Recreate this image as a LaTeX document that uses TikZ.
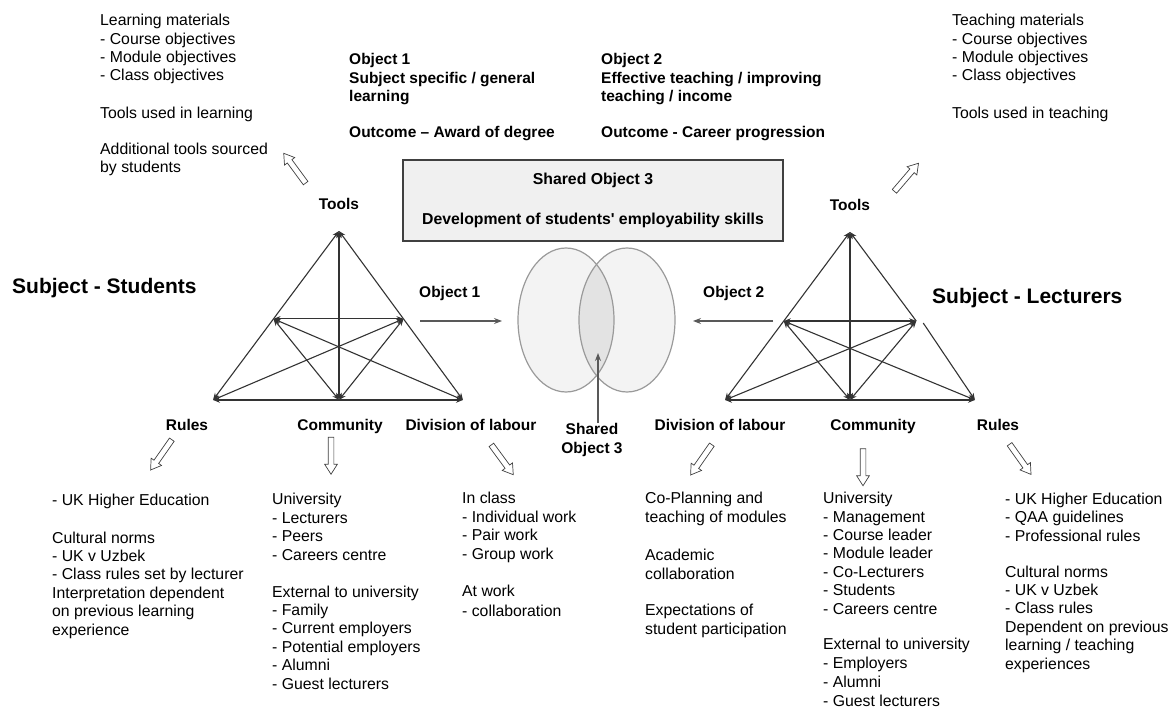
\documentclass[tikz,border=0pt]{standalone}
\usepackage{fontspec}
\setmainfont{Liberation Sans}
\usetikzlibrary{arrows.meta,shapes.arrows,calc}
\definecolor{linec}{HTML}{333333}
\definecolor{venn}{HTML}{F3F3F3}
\definecolor{venno}{HTML}{E3E3E3}
\definecolor{vennline}{HTML}{9A9A9A}
\definecolor{boxfill}{HTML}{F0F0F0}
\definecolor{boxline}{HTML}{404040}
\tikzset{
  txt/.style={font=\fontsize{15.8}{18.4}\selectfont, anchor=base west, inner sep=0pt, align=left},
  btxt/.style={font=\fontsize{15.5}{18.5}\selectfont\bfseries, anchor=base west, inner sep=0pt, align=left},
  lbl/.style={font=\fontsize{15.5}{18.5}\selectfont\bfseries, anchor=base, inner sep=0pt, align=center},
  bigtxt/.style={font=\fontsize{21}{25}\selectfont\bfseries, anchor=base west, inner sep=0pt},
  tipS/.tip={Stealth[length=7pt,width=5.5pt]},
  tri/.style={draw=linec, line width=1.1pt, tipS-tipS},
  objarr/.style={draw=black!65, line width=1.1pt, -{Stealth[length=8pt,width=6pt]}},
  hollow/.style={shape=single arrow, draw=black!75, fill=white, line width=0.7pt, minimum height=37pt, inner sep=2.5pt, single arrow head extend=3.5pt, single arrow tip angle=65},
  sbox/.style={draw=boxline, fill=boxfill, line width=1.3pt, minimum width=380pt, minimum height=81pt, inner sep=0pt, align=center, font=\fontsize{15.8}{18.5}\selectfont\bfseries},
}
\begin{document}
\begin{tikzpicture}[x=1pt,y=-1pt]
\useasboundingbox (0,0) rectangle (1176,711);

% (multi-line text nodes are placed by the baseline of their LAST line)
% ---------- top texts ----------
\node[txt] (tlA) at (100,81) {Learning materials\\- Course objectives\\- Module objectives\\- Class objectives};
\node[txt] (tlB) at (100,119) {Tools used in learning};
\node[txt] (tlC) at (100,173) {Additional tools sourced\\by students};

\node[txt] (trA) at (952,81) {Teaching materials\\- Course objectives\\- Module objectives\\- Class objectives};
\node[txt] (trB) at (952,119) {Tools used in teaching};

\node[btxt] (ob1) at (349,102) {Object 1\\Subject specific / general\\learning};
\node[btxt] (ob1o) at (349,138) {Outcome – Award of degree};
\node[btxt] (ob2) at (601,102) {Object 2\\Effective teaching / improving\\teaching / income};
\node[btxt] (ob2o) at (601,138) {Outcome - Career progression};

% ---------- shared box ----------
\node[sbox] (shbox) at (593,200.5) {Shared Object 3\\[21pt]Development of students\textquotesingle{} employability skills};

% ---------- subjects ----------
\node[bigtxt] (subS) at (12,294) {Subject - Students};
\node[bigtxt] (subL) at (932,304) {Subject - Lecturers};

% ---------- left triangle ----------
\coordinate (LA) at (339,231);
\coordinate (LBL) at (213,400);
\coordinate (LC) at (339,400);
\coordinate (LBR) at (463,400);
\coordinate (LML) at ($(LA)!0.52!(LBL)$);
\coordinate (LMR) at ($(LA)!0.52!(LBR)$);
\draw[tri] (LA) -- (LBL);
\draw[tri] (LA) -- (LBR);
\draw[tri] (LA) -- (LC);
\draw[tri] (LBL) -- (LBR);
\draw[tri] (LML) -- (LMR);
\draw[tri] (LML) -- (LC);
\draw[tri] (LML) -- (LBR);
\draw[tri] (LMR) -- (LC);
\draw[tri] (LMR) -- (LBL);

% ---------- right triangle ----------
\coordinate (RA) at (850,232);
\coordinate (RBL) at (725,400);
\coordinate (RC) at (850,400);
\coordinate (RBR) at (975,400);
\coordinate (RML) at ($(RA)!0.53!(RBL)$);
\coordinate (RMR) at ($(RA)!0.53!(RBR)$);
\coordinate (RMRb) at ($(RMR)+(7,2)$);
\draw[tri] (RA) -- (RBL);
\draw[draw=linec, line width=1.1pt, tipS-] (RA) -- (RMR);
\draw[draw=linec, line width=1.1pt, -tipS] (RMRb) -- (RBR);
\draw[tri] (RA) -- (RC);
\draw[tri] (RBL) -- (RBR);
\draw[tri] (RML) -- (RMR);
\draw[tri] (RML) -- (RC);
\draw[tri] (RML) -- (RBR);
\draw[tri] (RMR) -- (RC);
\draw[tri] (RMR) -- (RBL);

% ---------- triangle labels ----------
\node[lbl] (ltools) at (339,210) {Tools};
\node[lbl] (rtools) at (850,211) {Tools};
\node[lbl] (lrules) at (187,430) {Rules};
\node[lbl] (lcomm) at (340,430) {Community};
\node[lbl] (ldiv) at (471,430) {Division of labour};
\node[lbl] (rdiv) at (720,430) {Division of labour};
\node[lbl] (rcomm) at (873,430) {Community};
\node[lbl] (rrules) at (998,430) {Rules};

% ---------- venn ----------
\fill[venn] (566,320) ellipse (48 and 72);
\fill[venn] (627,320) ellipse (48 and 72);
\begin{scope}
  \clip (566,320) ellipse (48 and 72);
  \fill[venno] (627,320) ellipse (48 and 72);
\end{scope}
\draw[vennline, line width=1.2pt] (566,320) ellipse (48 and 72);
\draw[vennline, line width=1.2pt] (627,320) ellipse (48 and 72);

% ---------- object arrows ----------
\node[lbl, anchor=base west] (o1lbl) at (419,298) {Object 1};
\node[lbl, anchor=base west] (o2lbl) at (703,298) {Object 2};
\coordinate (o1tail) at (420,321);
\coordinate (o1tip) at (502,321);
\coordinate (o2tail) at (773,321);
\coordinate (o2tip) at (693,321);
\draw[objarr] (o1tail) -- (o1tip);
\draw[objarr] (o2tail) -- (o2tip);

\node[lbl] (so3) at (592,453) {Shared\\Object 3};
\coordinate (so3tip) at (598,353);
\draw[objarr] ([xshift=6pt]so3.north) -- (so3tip);

% ---------- hollow arrows ----------
\node[hollow, rotate=126.3] (htl) at (296,170) {};
\node[hollow, rotate=49.4] (htr) at (905,179) {};
\node[hollow, rotate=235] (hrl) at (162.5,453) {};
\node[hollow, rotate=270] (hcl) at (331,453.5) {};
\node[hollow, rotate=306.3] (hdl) at (501,458) {};
\node[hollow, rotate=235] (hdr) at (702.5,458) {};
\node[hollow, rotate=270] (hcr) at (863,465) {};
\node[hollow, rotate=305.4] (hrr) at (1019,457.5) {};

% ---------- bottom texts ----------
\node[txt] (blr1) at (52,505) {- UK Higher Education};
\node[txt] (blr2) at (52,635) {Cultural norms\\- UK v Uzbek\\- Class rules set by lecturer\\Interpretation dependent\\on previous learning\\experience};

\node[txt] (blc1) at (272,560) {University\\- Lecturers\\- Peers\\- Careers centre};
\node[txt] (blc2) at (272,689) {External to university\\- Family\\- Current employers\\- Potential employers\\- Alumni\\- Guest lecturers};

\node[txt] (bld1) at (462,559) {In class\\- Individual work\\- Pair work\\- Group work};
\node[txt] (bld2) at (462,616) {At work\\[1.5pt]- collaboration};

\node[txt] (brd1) at (645,522) {Co-Planning and\\teaching of modules};
\node[txt] (brd2) at (645,579) {Academic\\collaboration};
\node[txt] (brd3) at (645,634) {Expectations of\\student participation};

\node[txt] (brc1) at (823,614) {University\\- Management\\- Course leader\\- Module leader\\- Co-Lecturers\\- Students\\- Careers centre};
\node[txt] (brc2) at (823,706) {External to university\\[0.6pt]- Employers\\[0.6pt]- Alumni\\[0.6pt]- Guest lecturers};

\node[txt] (brr1) at (1005,541) {- UK Higher Education\\- QAA guidelines\\- Professional rules};
\node[txt] (brr2) at (1005,669) {Cultural norms\\- UK v Uzbek\\- Class rules\\Dependent on previous\\learning / teaching\\experiences};
\end{tikzpicture}
\end{document}
